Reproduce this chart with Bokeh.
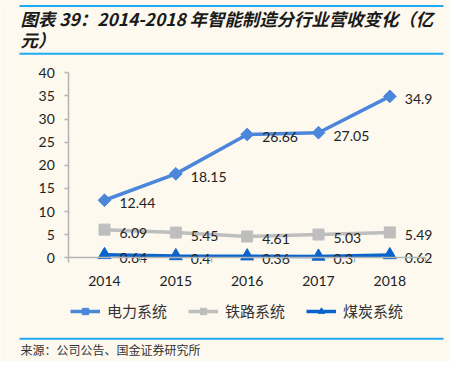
import math
from bokeh.plotting import figure
from bokeh.models import (FixedTicker, Label, Legend, LegendItem, BoxAnnotation,
                          ColumnDataSource, Range1d)
from bokeh.core.properties import value
from bokeh.embed import file_html
from bokeh.resources import INLINE

years = [2014, 2015, 2016, 2017, 2018]
power = [12.44, 18.15, 26.66, 27.05, 34.9]
rail = [6.09, 5.45, 4.61, 5.03, 5.49]
coal = [0.64, 0.4, 0.36, 0.3, 0.62]
series_names = ["电力系统", "铁路系统", "煤炭系统"]
y_ticks = [0, 5, 10, 15, 20, 25, 30, 35, 40]
title_line1 = "图表 39：2014-2018 年智能制造分行业营收变化（亿"
title_line2 = "元）"
source_text = "来源：公司公告、国金证券研究所"

BG = "#FDF9EF"
C_POWER = "#4A86DA"
C_RAIL = "#BEBEBE"
C_COAL = "#0A64CC"
AXIS = "#B4B4B4"
TXT = "#222222"
RULE = "#1EAAF0"

W, H = 450, 361
# pixel geometry of the plotting area (canvas pixels)
X0_PX, DX_PX = 104.0, 71.33      # pixel of first year, pixels per year
Y0_PX, DY_PX = 257.3, 4.625      # pixel of value 0, pixels per unit


def px2x(px):
    return years[0] + (px - X0_PX) / DX_PX


def py2y(py):
    return (Y0_PX - py) / DY_PX


p = figure(width=W, height=H, output_backend="svg", toolbar_location=None,
           x_range=Range1d(px2x(0), px2x(W)), y_range=Range1d(py2y(H), py2y(0)),
           min_border=0)
p.background_fill_color = BG
p.border_fill_color = BG
p.outline_line_color = None
p.xgrid.grid_line_color = None
p.ygrid.grid_line_color = None

# axes
p.xaxis.fixed_location = 0
p.xaxis.bounds = (years[0] - 0.5, years[-1] + 0.5)
p.yaxis.fixed_location = years[0] - 0.5
p.yaxis.bounds = (y_ticks[0], y_ticks[-1])
p.xaxis.ticker = FixedTicker(ticks=years,
                             minor_ticks=[y - 0.5 for y in years] + [years[-1] + 0.5])
p.xaxis.major_label_overrides = {y: str(y) for y in years}
p.xaxis.major_tick_out = 0
p.xaxis.major_tick_in = 0
p.xaxis.minor_tick_out = 5
p.xaxis.minor_tick_in = 0
p.xaxis.minor_tick_line_color = AXIS
p.xaxis.minor_tick_line_width = 1.5
p.xaxis.major_label_standoff = 13
p.yaxis.ticker = FixedTicker(ticks=y_ticks, minor_ticks=[])
p.yaxis.major_tick_out = 4
p.yaxis.major_tick_in = 0
p.yaxis.major_label_standoff = 10
for ax in (p.xaxis, p.yaxis):
    ax.axis_line_color = AXIS
    ax.axis_line_width = 1.5
    ax.major_tick_line_color = AXIS
    ax.major_tick_line_width = 1.5
    ax.major_label_text_font = "Lato"
    ax.major_label_text_font_size = "14px"
    ax.major_label_text_color = TXT

# series
r_rail_l = p.line(years, rail, line_color=C_RAIL, line_width=3.5)
r_rail_m = p.scatter(years, rail, marker="square", size=11, fill_color=C_RAIL, line_color=C_RAIL)
r_coal_l = p.line(years, coal, line_color=C_COAL, line_width=3.5)
r_coal_m = p.scatter(years, coal, marker="triangle", size=13, fill_color=C_COAL, line_color=C_COAL)
r_pow_l = p.line(years, power, line_color=C_POWER, line_width=3.5)
r_pow_m = p.scatter(years, power, marker="square", angle=math.pi / 4, size=9,
                    fill_color=C_POWER, line_color=C_POWER)

for vals in (power, rail, coal):
    src = ColumnDataSource(dict(x=years, y=vals, t=[str(v) for v in vals]))
    p.text(x="x", y="y", text="t", source=src, x_offset=15, y_offset=3,
           text_font=value("Lato"), text_font_size="14px", text_color=TXT,
           text_baseline="middle", text_align="left")

legend = Legend(items=[
    LegendItem(label=series_names[0], renderers=[r_pow_l, r_pow_m]),
    LegendItem(label=series_names[1], renderers=[r_rail_l, r_rail_m]),
    LegendItem(label=series_names[2], renderers=[r_coal_l, r_coal_m]),
], location=(70, H - 321), orientation="horizontal", glyph_width=30, glyph_height=16,
    label_standoff=7, spacing=21, padding=0, margin=0,
    label_text_font="Noto Sans CJK SC", label_text_font_size="15px",
    label_text_color="#333333", border_line_color=None, background_fill_alpha=0)
p.add_layout(legend, "center")

# title and source
for txt, py in ((title_line1, 17.5), (title_line2, 38.5)):
    p.add_layout(Label(x=px2x(20), y=py2y(py), text=txt,
                       text_font="Noto Sans CJK SC", text_font_size="17.4px",
                       text_font_style="bold italic",
                       text_color="#1a1a1a", text_baseline="middle"))
p.add_layout(Label(x=px2x(20), y=py2y(349.3), text=source_text,
                   text_font="Noto Sans CJK SC", text_font_size="12px",
                   text_color="#333333", text_baseline="middle"))

# rules
for yy in (5.5, 53.3, 338.3):
    p.add_layout(BoxAnnotation(left=px2x(19), right=px2x(443),
                               top=py2y(yy - 1), bottom=py2y(yy + 1),
                               fill_color=RULE, fill_alpha=1, line_color=None))

open("out.html", "w").write(file_html(p, INLINE))
